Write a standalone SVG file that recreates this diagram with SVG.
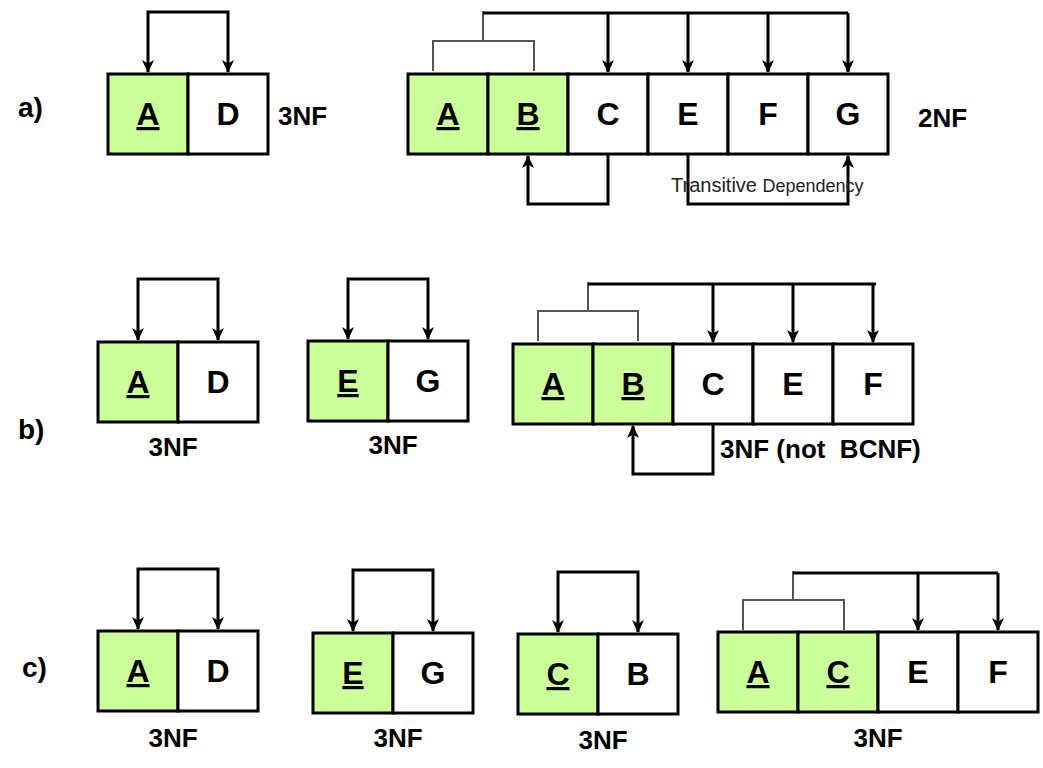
<svg xmlns="http://www.w3.org/2000/svg" width="1043" height="768" viewBox="0 0 1043 768">
<style>
.k{fill:#CCFF99;stroke:#000;stroke-width:3}
.c{fill:#fff;stroke:#000;stroke-width:3}
.t{font-family:"Liberation Sans",Arial,sans-serif;font-weight:bold;font-size:32px;text-anchor:middle;fill:#000}
.u{text-decoration:underline}
.n{font-family:"Liberation Sans",Arial,sans-serif;font-weight:bold;font-size:26px;fill:#000}
.lb{font-family:"Liberation Sans",Arial,sans-serif;font-weight:bold;font-size:28px;fill:#000}
.ar{fill:none;stroke:#000;stroke-width:3}
.br{fill:none;stroke:#555;stroke-width:2}
</style>
<defs>
<marker id="ah" viewBox="0 0 13 13" refX="12" refY="6.5" markerWidth="13" markerHeight="13" markerUnits="userSpaceOnUse" orient="auto-start-reverse">
<path d="M0,0.5 L13,6.5 L0,12.5 L3.5,6.5 Z" fill="#000"/>
</marker>
</defs>
<rect width="1043" height="768" fill="#fff"/>
<text class="lb" x="18" y="117">a)</text>
<text class="lb" x="18" y="439">b)</text>
<text class="lb" x="22" y="677">c)</text>

<g id="connectors">
<!-- row a -->
<path class="ar" d="M148,72 V12 H228 V72" marker-start="url(#ah)" marker-end="url(#ah)"/>
<path class="br" d="M483,11 V41 M433,71 V41 H534 V71"/>
<path class="ar" d="M483,13 H848"/>
<path class="ar" d="M608,13 V72" marker-end="url(#ah)"/>
<path class="ar" d="M688,13 V72" marker-end="url(#ah)"/>
<path class="ar" d="M768,13 V72" marker-end="url(#ah)"/>
<path class="ar" d="M848,13 V72" marker-end="url(#ah)"/>
<path class="ar" d="M608,155 V204 H528 V156" marker-end="url(#ah)"/>
<path class="ar" d="M688,155 V204 H848 V156" marker-end="url(#ah)"/>
<!-- row b -->
<path class="ar" d="M138,340 V279 H218 V340" marker-start="url(#ah)" marker-end="url(#ah)"/>
<path class="ar" d="M348,339 V279 H428 V339" marker-start="url(#ah)" marker-end="url(#ah)"/>
<path class="br" d="M588,282 V311 M538,341 V311 H638 V341"/>
<path class="ar" d="M588,284 H876"/>
<path class="ar" d="M713,284 V342" marker-end="url(#ah)"/>
<path class="ar" d="M793,284 V342" marker-end="url(#ah)"/>
<path class="ar" d="M873,284 V342" marker-end="url(#ah)"/>
<path class="ar" d="M713,425 V474 H633 V426" marker-end="url(#ah)"/>
<!-- row c -->
<path class="ar" d="M138,629 V569 H218 V629" marker-start="url(#ah)" marker-end="url(#ah)"/>
<path class="ar" d="M353,631 V570 H433 V631" marker-start="url(#ah)" marker-end="url(#ah)"/>
<path class="ar" d="M558,632 V572 H638 V632" marker-start="url(#ah)" marker-end="url(#ah)"/>
<path class="br" d="M793,571 V600 M743,630 V600 H844 V630"/>
<path class="ar" d="M793,573 H998"/>
<path class="ar" d="M918,573 V630" marker-end="url(#ah)"/>
<path class="ar" d="M998,573 V630" marker-end="url(#ah)"/>
</g>

<g id="a-AD">
<rect class="k" x="108" y="74" width="80" height="80"/>
<rect class="c" x="188" y="74" width="80" height="80"/>
<text class="t u" x="148" y="125">A</text>
<text class="t" x="228" y="125">D</text>
<text class="n" x="278" y="125">3NF</text>
</g>
<g id="a-ABCEFG">
<rect class="k" x="408" y="74" width="80" height="80"/>
<rect class="k" x="488" y="74" width="80" height="80"/>
<rect class="c" x="568" y="74" width="80" height="80"/>
<rect class="c" x="648" y="74" width="80" height="80"/>
<rect class="c" x="728" y="74" width="80" height="80"/>
<rect class="c" x="808" y="74" width="80" height="80"/>
<text class="t u" x="448" y="125">A</text>
<text class="t u" x="528" y="125">B</text>
<text class="t" x="608" y="125">C</text>
<text class="t" x="688" y="125">E</text>
<text class="t" x="768" y="125">F</text>
<text class="t" x="848" y="125">G</text>
<text class="n" x="918" y="127">2NF</text>
<text x="671" y="192" font-family="'Liberation Sans',Arial,sans-serif" fill="#222"><tspan font-size="20">Transitive </tspan><tspan font-size="18">Dependency</tspan></text>
</g>

<g id="b-AD">
<rect class="k" x="98" y="342" width="80" height="80"/>
<rect class="c" x="178" y="342" width="80" height="80"/>
<text class="t u" x="138" y="393">A</text>
<text class="t" x="218" y="393">D</text>
<text class="n" x="173" y="456" text-anchor="middle">3NF</text>
</g>
<g id="b-EG">
<rect class="k" x="308" y="341" width="80" height="80"/>
<rect class="c" x="388" y="341" width="80" height="80"/>
<text class="t u" x="348" y="392">E</text>
<text class="t" x="428" y="392">G</text>
<text class="n" x="393" y="454" text-anchor="middle">3NF</text>
</g>
<g id="b-ABCEF">
<rect class="k" x="513" y="344" width="80" height="80"/>
<rect class="k" x="593" y="344" width="80" height="80"/>
<rect class="c" x="673" y="344" width="80" height="80"/>
<rect class="c" x="753" y="344" width="80" height="80"/>
<rect class="c" x="833" y="344" width="80" height="80"/>
<text class="t u" x="553" y="395">A</text>
<text class="t u" x="633" y="395">B</text>
<text class="t" x="713" y="395">C</text>
<text class="t" x="793" y="395">E</text>
<text class="t" x="873" y="395">F</text>
<text class="n" x="720" y="458" xml:space="preserve">3NF (not  BCNF)</text>
</g>

<g id="c-AD">
<rect class="k" x="98" y="631" width="80" height="80"/>
<rect class="c" x="178" y="631" width="80" height="80"/>
<text class="t u" x="138" y="682">A</text>
<text class="t" x="218" y="682">D</text>
<text class="n" x="173" y="747" text-anchor="middle">3NF</text>
</g>
<g id="c-EG">
<rect class="k" x="313" y="633" width="80" height="80"/>
<rect class="c" x="393" y="633" width="80" height="80"/>
<text class="t u" x="353" y="684">E</text>
<text class="t" x="433" y="684">G</text>
<text class="n" x="398" y="747" text-anchor="middle">3NF</text>
</g>
<g id="c-CB">
<rect class="k" x="518" y="634" width="80" height="80"/>
<rect class="c" x="598" y="634" width="80" height="80"/>
<text class="t u" x="558" y="685">C</text>
<text class="t" x="638" y="685">B</text>
<text class="n" x="603" y="749" text-anchor="middle">3NF</text>
</g>
<g id="c-ACEF">
<rect class="k" x="718" y="632" width="80" height="80"/>
<rect class="k" x="798" y="632" width="80" height="80"/>
<rect class="c" x="878" y="632" width="80" height="80"/>
<rect class="c" x="958" y="632" width="80" height="80"/>
<text class="t u" x="758" y="683">A</text>
<text class="t u" x="838" y="683">C</text>
<text class="t" x="918" y="683">E</text>
<text class="t" x="998" y="683">F</text>
<text class="n" x="878" y="747" text-anchor="middle">3NF</text>
</g>
</svg>
